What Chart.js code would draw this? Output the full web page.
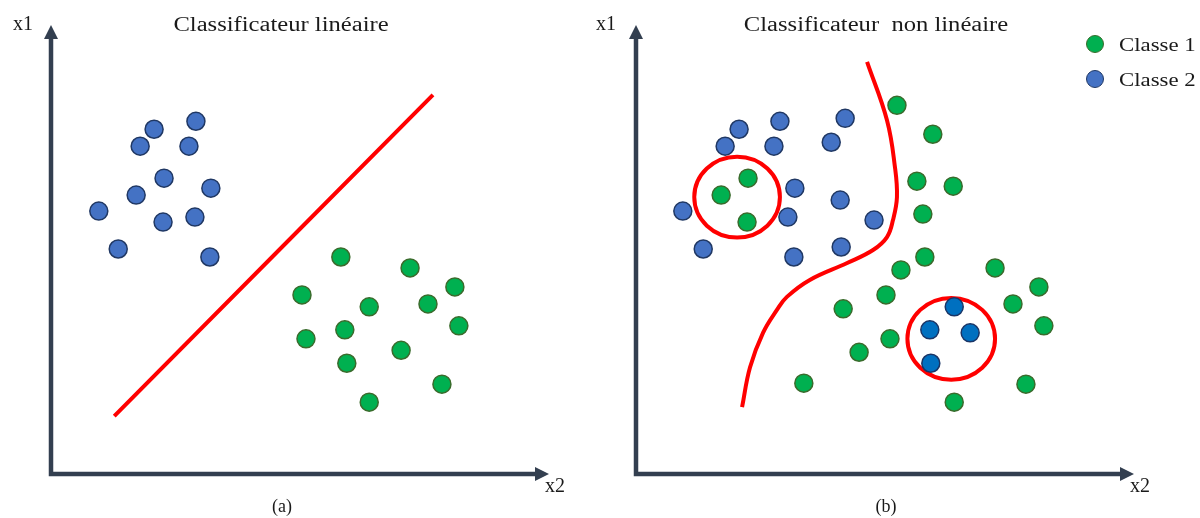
<!DOCTYPE html>
<html lang="fr">
<head>
<meta charset="utf-8">
<title>Classificateur linéaire / non linéaire</title>
<script src="https://cdn.jsdelivr.net/npm/chart.js@4/dist/chart.umd.min.js"></script>
<style>
  html, body { margin: 0; padding: 0; background: #fff; }
  #stage { position: relative; width: 1200px; height: 518px; overflow: hidden; background: #fff; }
  canvas { position: absolute; top: 0; }
  #cvA { left: 0; }
  #cvB { left: 600px; }
  .lbl { position: absolute; font-family: "Liberation Serif", "DejaVu Serif", serif; color: #1a1a1a;
         line-height: 1; white-space: pre; }
  .ctr { transform: translateX(-50%); }
  .wide { transform: translateX(-50%) scaleX(1.23); }
  .wideL { transform-origin: 0 50%; transform: scaleX(1.2); }
  .dot { position: absolute; width: 18px; height: 18px; border-radius: 50%; box-sizing: border-box; border: 1.5px solid; }
</style>
</head>
<body>
<div id="stage">
  <canvas id="cvA" width="600" height="518"></canvas>
  <canvas id="cvB" width="600" height="518"></canvas>

  <div class="lbl wide" id="titleA" style="left:281px; top:14px; font-size:20px;"></div>
  <div class="lbl wide" id="titleB" style="left:876px; top:14px; font-size:20px;"></div>
  <div class="lbl" id="yNameA" style="left:13px; top:13px; font-size:20px;"></div>
  <div class="lbl" id="yNameB" style="left:596px; top:13px; font-size:20px;"></div>
  <div class="lbl" id="xNameA" style="left:545px; top:475px; font-size:20px;"></div>
  <div class="lbl" id="xNameB" style="left:1130px; top:475px; font-size:20px;"></div>
  <div class="lbl ctr" id="tagA" style="left:282px; top:497px; font-size:18px;"></div>
  <div class="lbl ctr" id="tagB" style="left:886px; top:497px; font-size:18px;"></div>

  <span class="dot" id="legDot1" style="left:1086px; top:35px;"></span>
  <span class="dot" id="legDot2" style="left:1086px; top:70px;"></span>
  <div class="lbl wideL" id="legTxt1" style="left:1119px; top:35px; font-size:19px;"></div>
  <div class="lbl wideL" id="legTxt2" style="left:1119px; top:70px; font-size:19px;"></div>
</div>

<script>
// ---- labels ----
const panelTitles = ['Classificateur linéaire', 'Classificateur  non linéaire'];
const panelTags = ['(a)', '(b)'];
const axisNames = { x: 'x2', y: 'x1' };
const classNames = ['Classe 1', 'Classe 2'];

// ---- axis extent (feature units) ----
const x2Max = 10;
const x1Max = 9;

// ---- (a) linearly separable data: [x2, x1] ----
const linClass1 = [
  [5.82, 4.35], [7.21, 4.13], [8.11, 3.75], [5.04, 3.59], [6.39, 3.35],
  [7.57, 3.41], [8.19, 2.97], [5.12, 2.71], [5.90, 2.89], [7.03, 2.48],
  [5.94, 2.22], [7.85, 1.80], [6.39, 1.44]
];
const linClass2 = [
  [2.91, 7.07], [2.07, 6.91], [1.79, 6.57], [2.77, 6.57], [2.27, 5.93],
  [3.21, 5.73], [1.71, 5.59], [0.96, 5.27], [2.89, 5.15], [2.25, 5.05],
  [1.35, 4.51], [3.19, 4.35]
];
const linBoundary = [[1.27, 1.16], [7.67, 7.60]];

// ---- (b) non-linearly separable data: [x2, x1] ----
const nlClass1 = [
  [5.24, 7.39], [5.96, 6.81], [5.64, 5.87], [6.37, 5.77], [5.76, 5.21],
  [5.80, 4.35], [5.32, 4.09], [5.02, 3.59], [4.16, 3.31], [5.10, 2.71],
  [4.48, 2.44], [3.37, 1.82], [7.21, 4.13], [8.09, 3.75], [7.57, 3.41],
  [8.19, 2.97], [7.83, 1.80], [6.39, 1.44]
];
const nlClass1Islands = [[2.25, 5.93], [1.71, 5.59], [2.23, 5.05]];
const nlClass2 = [
  [2.07, 6.91], [2.89, 7.07], [1.79, 6.57], [2.77, 6.57], [4.20, 7.13],
  [3.92, 6.65], [3.19, 5.73], [0.94, 5.27], [3.05, 5.15], [4.10, 5.49],
  [4.78, 5.09], [1.35, 4.51], [3.17, 4.35], [4.12, 4.55]
];
const nlClass2Islands = [[6.39, 3.35], [5.90, 2.89], [6.71, 2.83], [5.92, 2.22]];
const nlBoundary = [
  [4.64, 8.26], [5.04, 7.09], [5.20, 6.15], [5.24, 5.55], [5.16, 5.09],
  [5.04, 4.75], [4.76, 4.49], [4.24, 4.23], [3.49, 3.89], [3.03, 3.55],
  [2.83, 3.29], [2.55, 2.83], [2.29, 2.14], [2.13, 1.34]
];
// outlier rings: [centre x2, centre x1, half-width, half-height]
const nlRings = [[2.03, 5.55, 0.86, 0.81], [6.33, 2.71, 0.88, 0.82]];

// ---- styling ----
const AXIS = '#333f50';
const RED = '#ff0000';
const GREEN = { fill: '#00b050', edge: '#3a6b2c' };
const BLUE = { fill: '#4472c4', edge: '#203864' };
const DEEP_BLUE = { fill: '#0070c0', edge: '#1a3566' };

const pts = arr => arr.map(([x, y]) => ({ x, y }));

function dotSet(arr, c) {
  return {
    type: 'scatter', data: pts(arr),
    pointRadius: 9, pointHoverRadius: 9, pointBorderWidth: 1.5,
    backgroundColor: c.fill, borderColor: c.edge, clip: false
  };
}
function lineSet(arr) {
  return {
    type: 'line', data: pts(arr), showLine: true, fill: false,
    borderColor: RED, borderWidth: 4, pointRadius: 0, tension: 0.4,
    borderCapStyle: 'butt', clip: false
  };
}

// axis arrows drawn from the scales' origin to their maxima
const arrowAxes = {
  id: 'arrowAxes',
  beforeDatasetsDraw(chart) {
    const { ctx, scales: { x, y } } = chart;
    const ox = x.getPixelForValue(0), oy = y.getPixelForValue(0);
    const tx = x.getPixelForValue(x2Max), ty = y.getPixelForValue(x1Max);
    const head = 14, half = 7;
    ctx.save();
    ctx.strokeStyle = AXIS; ctx.fillStyle = AXIS;
    ctx.lineWidth = 4.5; ctx.lineJoin = 'miter'; ctx.lineCap = 'butt';
    ctx.beginPath();
    ctx.moveTo(ox, ty + head - 1);
    ctx.lineTo(ox, oy);
    ctx.lineTo(tx - head + 1, oy);
    ctx.stroke();
    ctx.beginPath();
    ctx.moveTo(ox, ty); ctx.lineTo(ox - half, ty + head); ctx.lineTo(ox + half, ty + head); ctx.closePath();
    ctx.fill();
    ctx.beginPath();
    ctx.moveTo(tx, oy); ctx.lineTo(tx - head, oy - half); ctx.lineTo(tx - head, oy + half); ctx.closePath();
    ctx.fill();
    ctx.restore();
  }
};

// red rings around the misplaced groups, sized in feature units
const rings = {
  id: 'rings',
  beforeDatasetsDraw(chart, args, opts) {
    const list = opts.list || [];
    const { ctx, scales: { x, y } } = chart;
    ctx.save();
    ctx.strokeStyle = RED; ctx.lineWidth = 4;
    list.forEach(([cx, cy, rx, ry]) => {
      const px = x.getPixelForValue(cx), py = y.getPixelForValue(cy);
      const prx = Math.abs(x.getPixelForValue(cx + rx) - px);
      const pry = Math.abs(y.getPixelForValue(cy + ry) - py);
      ctx.beginPath();
      ctx.ellipse(px, py, prx, pry, 0, 0, Math.PI * 2);
      ctx.stroke();
    });
    ctx.restore();
  }
};

function baseOptions(padLeft, padRight, ringList) {
  return {
    responsive: false, animation: false, events: [],
    layout: { padding: { left: padLeft, right: padRight, top: 25, bottom: 44 } },
    scales: {
      x: { type: 'linear', min: 0, max: x2Max, display: false },
      y: { type: 'linear', min: 0, max: x1Max, display: false }
    },
    plugins: { legend: { display: false }, tooltip: { enabled: false }, title: { display: false },
               rings: { list: ringList } }
  };
}

new Chart(document.getElementById('cvA'), {
  type: 'scatter',
  data: { datasets: [
    lineSet(linBoundary),
    dotSet(linClass2, BLUE),
    dotSet(linClass1, GREEN)
  ] },
  options: baseOptions(51, 51, []),
  plugins: [arrowAxes, rings]
});

new Chart(document.getElementById('cvB'), {
  type: 'scatter',
  data: { datasets: [
    lineSet(nlBoundary),
    dotSet(nlClass2, BLUE),
    dotSet(nlClass1, GREEN),
    dotSet(nlClass1Islands, GREEN),
    dotSet(nlClass2Islands, DEEP_BLUE)
  ] },
  options: baseOptions(36, 66, nlRings),
  plugins: [arrowAxes, rings]
});

// ---- text ----
document.getElementById('titleA').textContent = panelTitles[0];
document.getElementById('titleB').textContent = panelTitles[1];
document.getElementById('tagA').textContent = panelTags[0];
document.getElementById('tagB').textContent = panelTags[1];
['A', 'B'].forEach(k => {
  document.getElementById('yName' + k).textContent = axisNames.y;
  document.getElementById('xName' + k).textContent = axisNames.x;
});
document.getElementById('legTxt1').textContent = classNames[0];
document.getElementById('legTxt2').textContent = classNames[1];
const d1 = document.getElementById('legDot1');
d1.style.background = GREEN.fill; d1.style.borderColor = GREEN.edge;
const d2 = document.getElementById('legDot2');
d2.style.background = BLUE.fill; d2.style.borderColor = BLUE.edge;
</script>
</body>
</html>
